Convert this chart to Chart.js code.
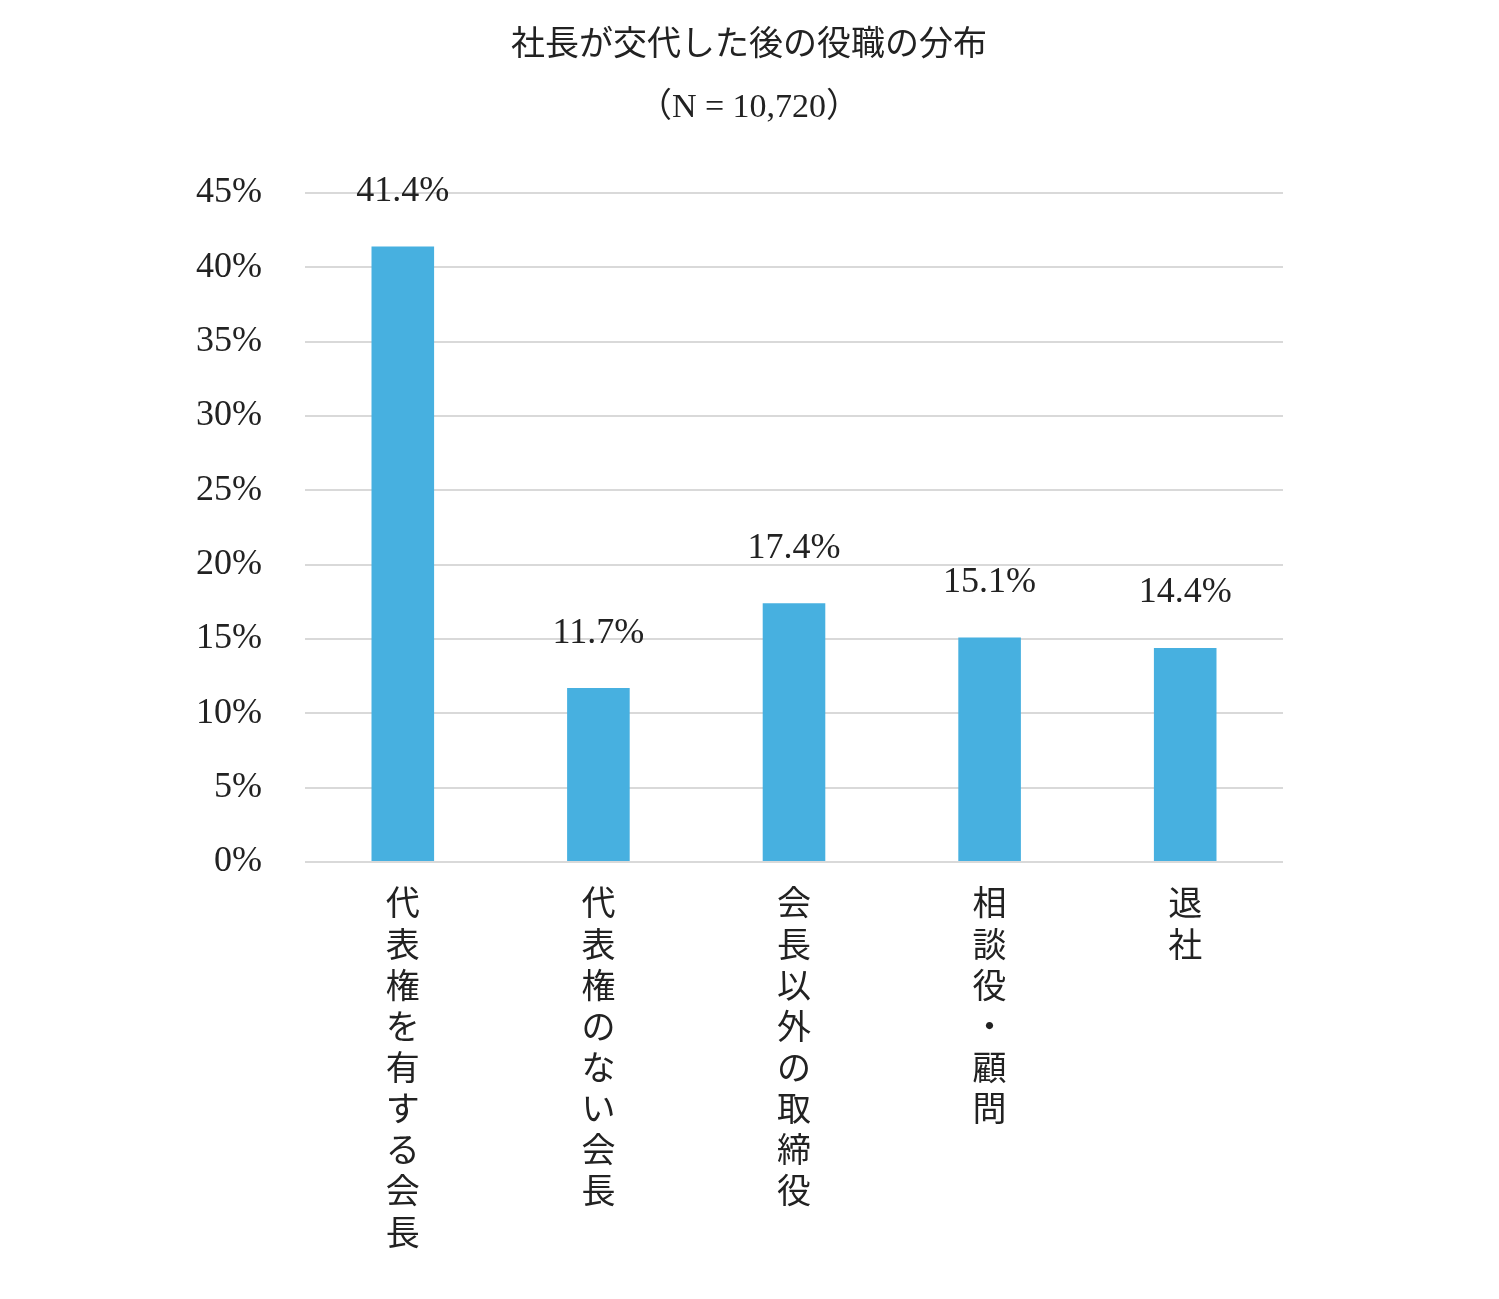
<!DOCTYPE html>
<html><head><meta charset="utf-8">
<script src="https://cdn.jsdelivr.net/npm/chart.js@4"></script>
<style>html,body{margin:0;padding:0;background:#fff}</style>
</head><body>
<canvas id="c" width="1499" height="1299"></canvas>
<script>
const categories = ["代表権を有する会長","代表権のない会長","会長以外の取締役","相談役・顧問","退社"];
const values = [41.4, 11.7, 17.4, 15.1, 14.4];
const titleLines = ["社長が交代した後の役職の分布","（N = 10,720）"];
const FONT = "'Liberation Serif','Noto Sans CJK JP',serif";
const labelsPlugin = {
  id:'lbl',
  afterDatasetsDraw(chart){
    const ctx=chart.ctx; const meta=chart.getDatasetMeta(0);
    ctx.save(); ctx.fillStyle='#222'; ctx.font="36px "+FONT; ctx.textAlign='center'; ctx.textBaseline='middle';
    meta.data.forEach((b,i)=>{ ctx.fillText(values[i].toFixed(1)+'%', b.x, b.y-55); });
    ctx.font="34px 'Noto Sans CJK JP',serif";
    ctx.fillText(titleLines[0], 749, 42);
    ctx.font="34px "+FONT;
    ctx.fillText(titleLines[1], 749, 108);
    ctx.restore();
  }
};
new Chart(document.getElementById('c'),{
  type:'bar',
  data:{labels:categories.map(s=>s.split('')),datasets:[{data:values,backgroundColor:'#47b0e0',barPercentage:0.32,categoryPercentage:1}]},
  options:{responsive:false,animation:false,devicePixelRatio:1,
    layout:{padding:{top:193,right:216,left:0,bottom:0}},
    plugins:{legend:{display:false},tooltip:{enabled:false}},
    scales:{
      x:{grid:{display:false},border:{display:false},
        ticks:{color:'#222',font:{size:34,family:"'Noto Sans CJK JP',serif",lineHeight:1.21},maxRotation:0,autoSkip:false,padding:12},
        afterFit(s){s.height=1299-862;}},
      y:{min:0,max:45,grid:{color:'#d9d9d9',lineWidth:2,drawTicks:false},border:{display:false},
        ticks:{stepSize:5,color:'#222',padding:43,font:{size:36,family:FONT},callback:v=>v+'%'},
        afterFit(s){s.width=305;}}
    }},
  plugins:[labelsPlugin]
});
</script>
</body></html>
